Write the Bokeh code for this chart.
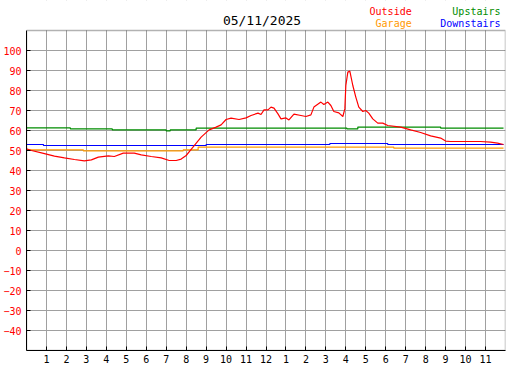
from bokeh.plotting import figure
from bokeh.models import FixedTicker, Label, Range1d, BoxAnnotation
from bokeh.embed import file_html
from bokeh.resources import INLINE

# ---- data (hours since midnight, degrees F) ----
outside_h = [0, 0.25, 0.75, 1.4, 1.9, 2.4, 2.9, 3.25, 3.6, 4.1, 4.4, 4.85, 5.4, 5.75, 6.25,
             6.75, 7.15, 7.5, 7.75, 8.0, 8.25, 8.75, 9.15, 9.5, 9.75, 10.0, 10.25, 10.65, 11.0,
             11.25, 11.6, 11.75, 11.9, 12.1, 12.25, 12.4, 12.6, 12.75, 13.0, 13.15, 13.4, 13.75,
             14.0, 14.25, 14.4, 14.75, 14.9, 15.1, 15.25, 15.4, 15.65, 15.85, 15.95, 16.0, 16.1,
             16.2, 16.35, 16.5, 16.65, 16.85, 17.0, 17.15, 17.35, 17.6, 17.85, 18.1, 18.75, 19.25,
             19.75, 20.25, 20.75, 21.0, 21.25, 22.75, 23.25, 23.6, 23.9]
outside_f = [50.8, 50.0, 48.8, 47.2, 46.3, 45.5, 44.8, 45.3, 46.7, 47.3, 47.0, 48.7, 48.7, 47.8, 47.0,
             46.3, 45.0, 45.0, 45.7, 47.5, 50.6, 56.7, 60.3, 61.7, 62.8, 65.5, 66.2, 65.5, 66.3,
             67.5, 68.7, 68.0, 70.3, 70.3, 71.7, 71.2, 68.3, 65.8, 66.3, 65.3, 68.2, 67.5,
             67.0, 67.8, 71.7, 74.2, 73.0, 74.2, 72.5, 69.5, 68.8, 67.0, 70.8, 82.5, 89.2,
             89.7, 82.5, 76.7, 71.7, 69.5, 70.0, 68.7, 65.8, 63.7, 63.7, 62.5, 61.7, 60.3,
             59.0, 57.3, 56.2, 54.7, 54.5, 54.5, 54.2, 53.7, 53.0]

garage_h = [0, 2.85, 2.85, 7.85, 7.85, 8.6, 8.6, 18.4, 18.4, 23.9]
garage_f = [50.3, 50.3, 49.8, 49.8, 50.3, 50.3, 51.7, 51.7, 51.2, 51.2]

upstairs_h = [0, 2.2, 2.2, 4.3, 4.3, 7.0, 7.0, 7.2, 7.2, 8.5, 8.5, 16.05, 16.05, 16.6, 16.6, 20.75, 20.75, 23.9]
upstairs_f = [61.3, 61.3, 60.8, 60.8, 60.3, 60.3, 59.8, 59.8, 60.3, 60.3, 61.2, 61.2, 60.8, 60.8, 61.7, 61.7, 61.2, 61.2]

downstairs_h = [0, 0.85, 0.85, 9.0, 9.0, 15.2, 15.2, 18.1, 18.1, 23.9]
downstairs_f = [53.0, 53.0, 52.5, 52.5, 53.0, 53.0, 53.5, 53.5, 53.0, 53.0]

x_ticks = list(range(1, 24))
x_tick_labels = ["1", "2", "3", "4", "5", "6", "7", "8", "9", "10", "11", "12",
                 "1", "2", "3", "4", "5", "6", "7", "8", "9", "10", "11"]
y_ticks = list(range(-40, 101, 10))
x_min, x_max = 0, 24
y_min, y_max = -50, 110
y_top = 125  # headroom for title / legend texts

title_text = "05/11/2025"
series_names = ["Outside", "Garage", "Upstairs", "Downstairs"]
series_colors = ["#ff0000", "#ff9900", "#008c00", "#0000ff"]

MONO = "DejaVu Sans Mono"

p = figure(width=527, height=370, output_backend="svg", toolbar_location=None,
           x_range=Range1d(x_min, x_max), y_range=Range1d(y_min, y_top),
           min_border_left=25, min_border_right=22, min_border_top=0, min_border_bottom=20)
p.background_fill_color = "white"
p.border_fill_color = "white"
p.outline_line_color = None

p.xaxis.ticker = FixedTicker(ticks=x_ticks)
p.xaxis.major_label_overrides = {t: lab for t, lab in zip(x_ticks, x_tick_labels)}
p.yaxis.ticker = FixedTicker(ticks=y_ticks)
p.yaxis.bounds = (y_min, y_max)
for ax in (p.xaxis, p.yaxis):
    ax.axis_line_color = "black"
    ax.axis_line_width = 1
    ax.major_tick_line_color = "black"
    ax.major_tick_in = 4
    ax.major_tick_out = 0
    ax.minor_tick_line_color = None
    ax.major_label_text_font = MONO
    ax.major_label_text_font_size = "10px"
p.yaxis.major_label_standoff = 5
p.xaxis.major_label_standoff = 4
p.yaxis.major_label_text_color = "#ff0000"
p.xaxis.major_label_text_color = "black"

p.xgrid.ticker = FixedTicker(ticks=x_ticks)
p.ygrid.ticker = FixedTicker(ticks=y_ticks)
for g in (p.xgrid, p.ygrid):
    g.grid_line_color = "#a0a0a0"
    g.grid_line_width = 1

p.line(garage_h, garage_f, line_color=series_colors[1], line_width=1.2)
p.line(upstairs_h, upstairs_f, line_color=series_colors[2], line_width=1.2)
p.line(downstairs_h, downstairs_f, line_color=series_colors[3], line_width=1.2)
p.line(outside_h, outside_f, line_color=series_colors[0], line_width=1.2)

# white header area above the plotting box, then the box outline
p.add_layout(BoxAnnotation(bottom=y_max, fill_color="white", fill_alpha=1.0, line_color=None))
p.add_layout(BoxAnnotation(left=x_min, right=x_max, bottom=y_min, top=y_max,
                           fill_alpha=0.0, line_color="black", line_width=1.5))

p.add_layout(Label(x=11.8, y=115.0, text=title_text, text_font=MONO, text_font_size="13px",
                   text_align="center", text_baseline="middle", text_color="black"))
legend_pos = [(19.3, 119.5), (19.3, 113.5), (23.75, 119.5), (23.75, 113.5)]
for name, col, (lx, ly) in zip(series_names, series_colors, legend_pos):
    p.add_layout(Label(x=lx, y=ly, text=name, text_font=MONO, text_font_size="10px",
                       text_align="right", text_baseline="middle", text_color=col))

open("out.html", "w").write(file_html(p, INLINE))
